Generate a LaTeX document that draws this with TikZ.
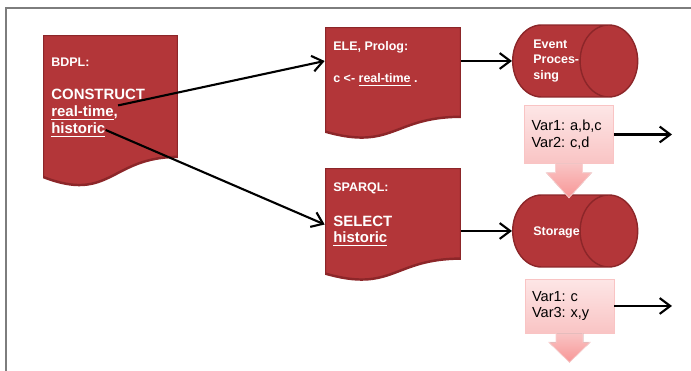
\documentclass[tikz,border=0pt]{standalone}
\usepackage{fontspec}
\setmainfont{Liberation Sans}
\usetikzlibrary{positioning,shapes.geometric,arrows.meta,calc}
\definecolor{docred}{RGB}{179,54,57}
\definecolor{docedge}{RGB}{140,38,41}
\definecolor{pinklight}{RGB}{253,230,230}
\definecolor{pinkmid}{RGB}{249,196,196}
\definecolor{pinkdeep}{RGB}{248,150,150}
\definecolor{framegray}{RGB}{125,125,125}

\begin{document}
\frenchspacing
\begin{tikzpicture}[
    x=0.02cm, y=-0.02cm,
    document/.style={
        minimum width=2.7cm,
        inner sep=0pt,
        path picture={
            \fill[docred, draw=docedge, line width=1.4pt]
              (path picture bounding box.north west) -- (path picture bounding box.north east)
              -- ($(path picture bounding box.north east)!0.802!(path picture bounding box.south east)$)
              .. controls ($(path picture bounding box.north)!0.802!(path picture bounding box.south)$)
              and ($(path picture bounding box.north)!1.1075!(path picture bounding box.south)$)
              .. ($(path picture bounding box.north west)!0.934!(path picture bounding box.south west)$)
              -- cycle;
        }
    },
    store/.style={
        cylinder,
        shape border rotate=0,
        aspect=1.6,
        minimum height=2.5cm,
        minimum width=1.44cm,
        inner xsep=0pt,
        inner ysep=0.36cm,
        anchor=west,
        cylinder uses custom fill,
        cylinder body fill=docred,
        cylinder end fill=docred,
        draw=docedge,
        line width=0.8pt
    },
    storetext/.style={anchor=west, inner sep=0pt, align=left, text=white, font=\bfseries\fontsize{7.1}{9}\selectfont},
    head/.style={anchor=west, inner sep=0pt, text=white, font=\bfseries\fontsize{7.1}{8.5}\selectfont},
    body/.style={anchor=west, inner sep=0pt, text=white, font=\bfseries\fontsize{8.5}{10}\selectfont},
    varbox/.style={
        draw=pinkmid,
        top color=pinklight,
        bottom color=pinkmid,
        minimum width=1.78cm,
        text width=1.5cm,
        inner xsep=0.14cm,
        align=left,
        font=\fontsize{8.3}{9.5}\selectfont
    },
    blockarrow/.style={top color=pinkmid, bottom color=pinkdeep, draw=pinkmid!80!white},
    edge/.style={-{Straight Barb[length=6pt,width=9pt]}, line width=1.2pt}
]
\useasboundingbox (0,0) rectangle (691,371);

% frame
\draw[framegray, line width=1.2pt] (6,371) -- (6,8) -- (691,8);

% === Documents ===
\node[document, minimum height=3.04cm] (bdpl) at (110.5,111) {};
\node[document, minimum width=2.72cm, minimum height=2.24cm] (ele) at (393,83) {};
\node[document, minimum width=2.72cm, minimum height=2.26cm] (sparql) at (393,224.5) {};

% BDPL text
\node[head] (bdplhead) at (51,62) {BDPL:};
\node[body] (construct) at (51,94) {CONSTRUCT};
\node[body] (realtime) at (51,113) {\underline{real-time},};
\node[body] (historic) at (51,130) {\underline{historic}};

% ELE text
\node[head] (elehead) at (333,47) {ELE, Prolog:};
\node[head] (elebody) at (333,80) {c <- \underline{real-time} .};

% SPARQL text
\node[head] (sparqlhead) at (333,188) {SPARQL:};
\node[body] (select) at (333,221) {SELECT};
\node[body] (selhist) at (333,239) {\underline{historic}};

% === Stores ===
\node[store] (event) at (512,61) {};
\node[storetext] (eventtxt) at (533,61) {Event\\Proces-\\sing};
\node[store] (storage) at (512,231) {};
\node[storetext] (storagetxt) at (533,232) {Storage};

% === Variable boxes ===
\node[varbox, minimum height=1.16cm] (var1) at (569,134.5) {Var1: a,b,c\\Var2: c,d};
\node[varbox, minimum height=1.08cm] (var2) at (569.5,306) {Var1: c\\Var3: x,y};

\fill[blockarrow] ($(var1.south)+(-13.5,0)$) -- ++(27,0) -- ++(0,9) -- ++(9,0)
  -- ($(var1.south)+(0,34)$) -- ($(var1.south)+(-22.5,9)$) -- ++(9,0) -- cycle;
\fill[blockarrow] ($(var2.south)+(-13.5,0)$) -- ++(27,0) -- ++(0,9) -- ++(7,0)
  -- ($(var2.south)+(0,29)$) -- ($(var2.south)+(-20.5,9)$) -- ++(7,0) -- cycle;

\coordinate (out1) at (672,134.5);
\coordinate (out2) at (672,306);

% === Connectors ===
\draw[edge] (realtime.north east) -- (ele.west |- event.west);
\draw[edge] (historic.east) -- (sparql.west);
\draw[edge] (event.west -| ele.east) -- (event.west);
\draw[edge] (storage.west -| sparql.east) -- (storage.west);
\draw[edge] (var1.east) -- (out1);
\draw[edge] (var2.east) -- (out2);

\end{tikzpicture}
\end{document}
